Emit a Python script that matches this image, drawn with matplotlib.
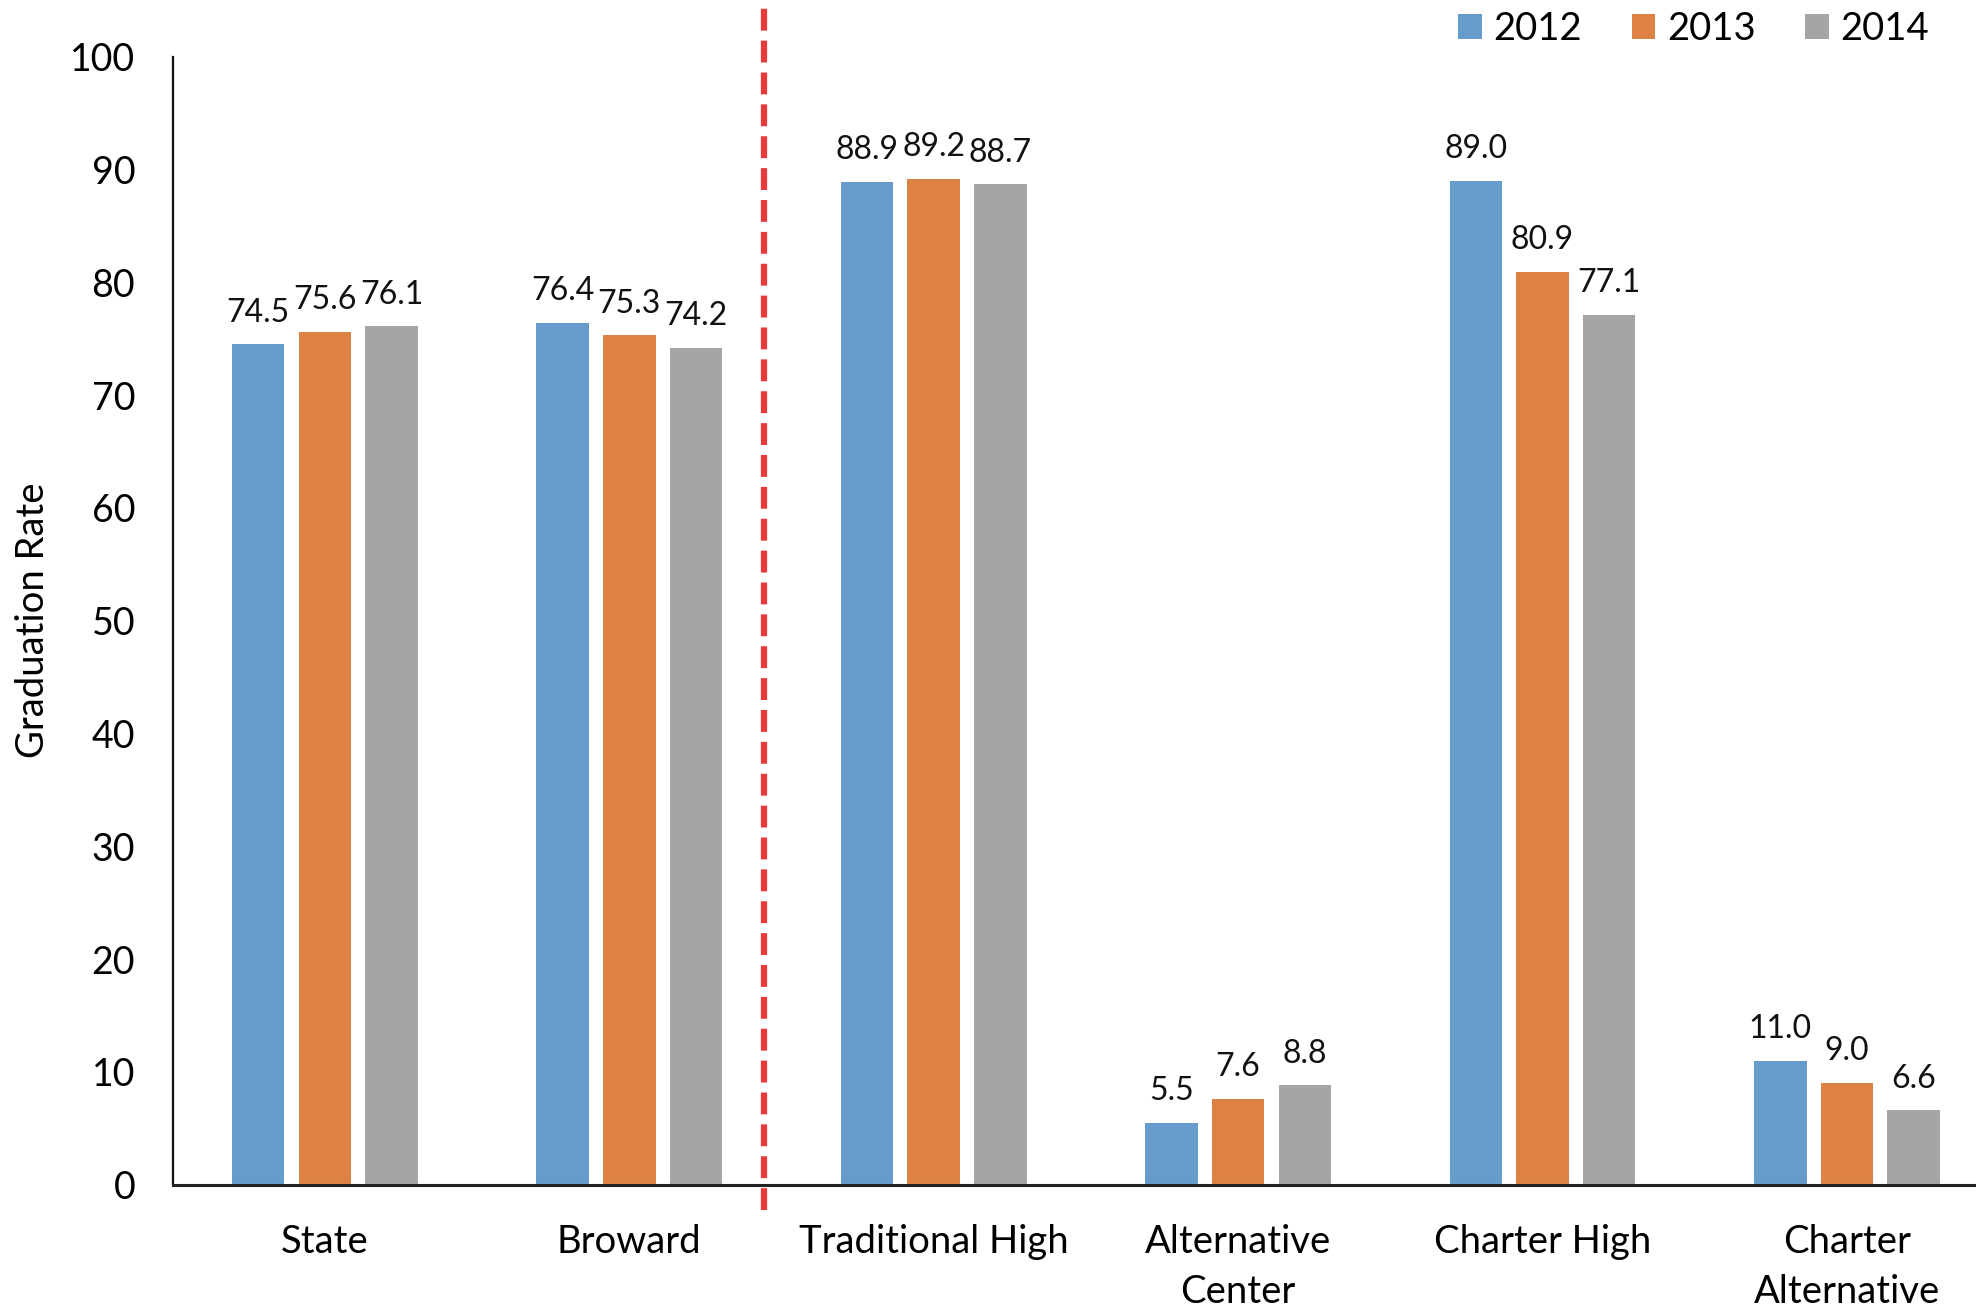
import matplotlib
matplotlib.use("Agg")
import matplotlib.pyplot as plt
import numpy as np
from matplotlib.patches import Patch

# --- data ---
categories = ["State", "Broward", "Traditional High", "Alternative\nCenter",
              "Charter High", "Charter\nAlternative"]
years = ["2012", "2013", "2014"]
rate_2012 = [74.5, 76.4, 88.9, 5.5, 89.0, 11.0]
rate_2013 = [75.6, 75.3, 89.2, 7.6, 80.9, 9.0]
rate_2014 = [76.1, 74.2, 88.7, 8.8, 77.1, 6.6]
y_ticks = [0, 10, 20, 30, 40, 50, 60, 70, 80, 90, 100]
divider_x = 1.443  # red dashed separator, between Broward and Traditional High

colors = ["#669CCC", "#DE8243", "#A5A5A5"]

plt.rcParams["font.family"] = ["Lato", "DejaVu Sans"]

fig = plt.figure(figsize=(19.76, 13.10), dpi=100)
ax = fig.add_axes([0.0874, 0.0957, 1 - 0.0874, 0.861])

x = np.arange(len(categories))
width = 0.1725
step = 0.219
series = [rate_2012, rate_2013, rate_2014]
for i, (vals, col) in enumerate(zip(series, colors)):
    bars = ax.bar(x + (i - 1) * step, vals, width, color=col, label=years[i])
    ax.bar_label(bars, labels=[f"{v:.1f}" for v in vals], padding=12,
                 fontsize=23, color="#111111")

ax.plot([divider_x, divider_x], [-2.25, 105], color="#E8393B", lw=4.5,
        dashes=(3.5, 1.6), clip_on=False, zorder=5)

ax.set_xlim(-0.5, 5.424)
ax.set_ylim(0, 100)
ax.set_yticks(y_ticks)
ax.set_xticks(x)
ax.set_xticklabels(categories, linespacing=1.5)
ax.tick_params(axis="y", length=0, pad=27, labelsize=27)
ax.tick_params(axis="x", length=0, pad=28, labelsize=27.5)

for s in ["top", "right"]:
    ax.spines[s].set_visible(False)
ax.spines["left"].set_linewidth(1.6)
ax.spines["left"].set_color("#111111")
ax.spines["bottom"].set_linewidth(2.2)
ax.spines["bottom"].set_color("#222222")

fig.text(33 / 1976, 0.5263, "Graduation Rate", rotation=90, ha="center",
         va="center", fontsize=27.5)

handles = [Patch(facecolor=c) for c in colors]
fig.legend(handles, years, loc="center right", ncol=3, frameon=False,
           bbox_to_anchor=(1929 / 1976, 1 - 29 / 1310), borderaxespad=0,
           borderpad=0, fontsize=27.5, handlelength=0.62, handleheight=0.62,
           handletextpad=0.3, columnspacing=1.3)

fig.savefig("out.png", dpi=100)
